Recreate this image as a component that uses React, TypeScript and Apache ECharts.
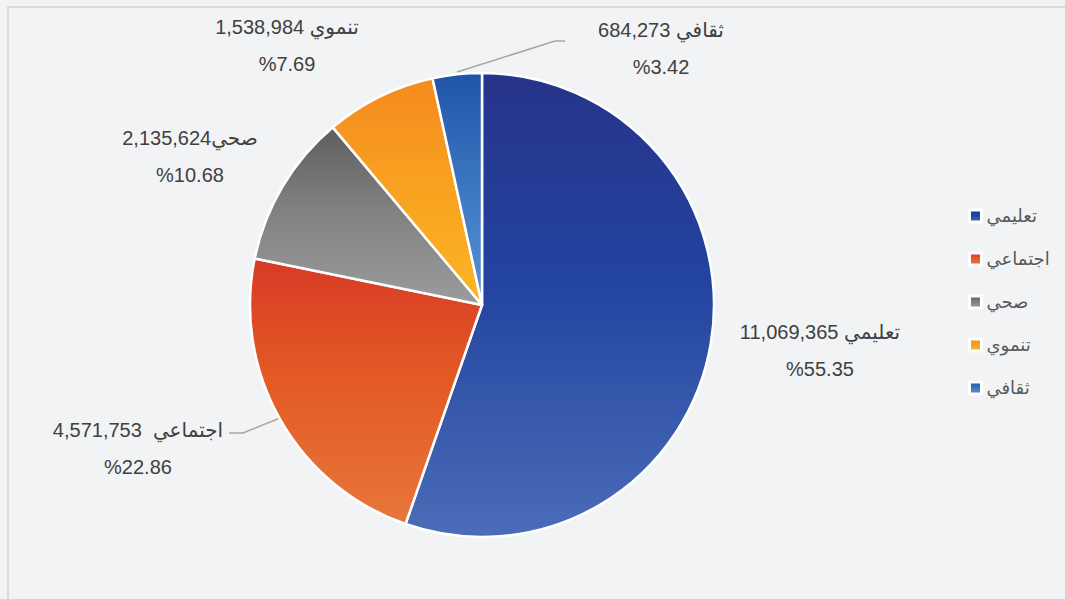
import React, { useEffect, useRef } from "react";
import * as echarts from "echarts";

const categories = ["تعليمي", "اجتماعي", "صحي", "تنموي", "ثقافي"];
const values = [11069365, 4571753, 2135624, 1538984, 684273];
const gradients = [
  ["#27338a", "#2244a0", "#4b6cb7"],
  ["#d83a26", "#e35a24", "#e8763c"],
  ["#5e5e5e", "#808080", "#9c9c9c"],
  ["#f48b1e", "#f8a020", "#fbb626"],
  ["#1f54a8", "#3a74bf", "#5892d2"],
];
// label layout (centre x, middle y) per slice
const labelPos = [
  [820, 350],
  [138, 448],
  [190, 156],
  [287, 45],
  [661, 48],
];
const nameSep = [" ", "  ", "", " ", " "];
const showLine = [false, true, false, false, true];
const linePts: any = {
  1: [[280, 418], [243, 433], [229, 433]],
  4: [[457, 72], [555, 41], [565, 41]],
};

const FONT = "'Liberation Sans', Arial, 'DejaVu Sans', sans-serif";

export default function App() {
  const ref = useRef<HTMLDivElement>(null);
  useEffect(() => {
    const chart = echarts.init(ref.current!, null, { renderer: "svg" });
    const data = categories.map((name, i) => ({
      name,
      value: values[i],
      itemStyle: {
        color: new echarts.graphic.LinearGradient(0, 0, 0, 1, [
          { offset: 0, color: gradients[i][0] },
          { offset: 0.45, color: gradients[i][1] },
          { offset: 1, color: gradients[i][2] },
        ]),
      },
      labelLine: { show: showLine[i] },
    }));
    chart.setOption({
      animation: false,
      backgroundColor: "#f2f3f5",
      graphic: [
        {
          type: "rect",
          shape: { x: 8, y: 7, width: 1200, height: 800 },
          style: { fill: "none", stroke: "#dcdad6", lineWidth: 2 },
          silent: true,
        },
      ],
      legend: {
        orient: "vertical",
        left: 968,
        top: 206,
        padding: 0,
        itemWidth: 12,
        itemHeight: 12,
        itemGap: 23,
        icon: "rect",
        itemStyle: { borderColor: "#ffffff", borderWidth: 3 },
        textStyle: { fontSize: 18, color: "#595959", fontFamily: FONT, lineHeight: 20 },
        data: categories,
      },
      series: [
        {
          type: "pie",
          center: [482, 305],
          radius: 232,
          startAngle: 90,
          clockwise: true,
          avoidLabelOverlap: false,
          itemStyle: { borderColor: "#ffffff", borderWidth: 2.5 },
          label: {
            show: true,
            position: "outside",
            color: "#404040",
            fontSize: 20,
            fontFamily: FONT,
            lineHeight: 37,
            align: "center",
            formatter: (p: any) =>
              `${p.name}${nameSep[p.dataIndex]}${Number(p.value).toLocaleString("en-US")}\n%${p.percent.toFixed(2)}`,
          },
          labelLine: {
            lineStyle: { color: "#a6a6a6", width: 1.5 },
          },
          labelLayout: (p: any) => {
            const i = p.dataIndex;
            const r: any = {
              x: labelPos[i][0],
              y: labelPos[i][1],
              align: "center",
              verticalAlign: "middle",
            };
            if (linePts[i]) r.labelLinePoints = linePts[i];
            return r;
          },
          data,
        },
      ],
    });
    return () => chart.dispose();
  }, []);
  return (
    <div
      ref={ref}
      style={{ position: "fixed", left: 0, top: 0, width: 1065, height: 599 }}
    />
  );
}
